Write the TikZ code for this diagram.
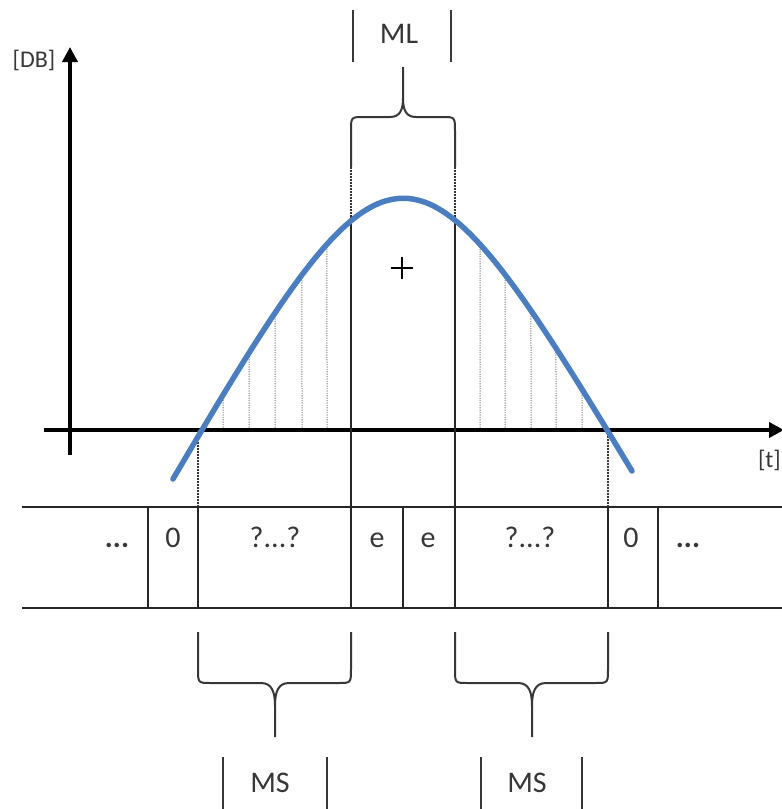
\documentclass[tikz,border=0pt]{standalone}
\usepackage{fontspec}
\setmainfont{Carlito}
\usetikzlibrary{arrows.meta,intersections}
\definecolor{curveblue}{RGB}{74,126,193}
\definecolor{txtgray}{RGB}{55,55,55}
\definecolor{linegray}{RGB}{55,55,55}
\begin{document}
\begin{tikzpicture}[x=1pt,y=-1pt,
  axisline/.style={line width=3.6pt, black, -{Triangle[width=15pt,length=15pt]}},
  bluecurve/.style={line width=5.5pt, draw=curveblue, line cap=round},
  cellline/.style={line width=1.8pt, draw=black!85},
  guide/.style={line width=1.6pt, draw=black!80, dash pattern=on 1.6pt off 1.4pt},
  hatch/.style={line width=1pt, draw=black!50, dash pattern=on 1.2pt off 1.2pt},
  bracket/.style={line width=2pt, draw=linegray, line join=round},
  labelbar/.style={line width=2pt, draw=linegray},
  bigtxt/.style={font=\fontsize{30}{36}\selectfont, text=txtgray, inner sep=0pt, anchor=base},
  unittxt/.style={font=\fontsize{24}{28}\selectfont, text=txtgray, inner sep=0pt, anchor=base}
]
\useasboundingbox (0,0) rectangle (782,809);

% curve (named path)
\coordinate (cstart) at (173,479);
\coordinate (cend) at (632,471);
\path[name path=curvepath] (cstart) .. controls (393,105) and (412,107) .. (cend);

% hatching under the curve
\foreach \hx [count=\i] in {223,249,275,302,327,480,505,531,556,582} {
  \path[name path=hline\i] (\hx,150) -- (\hx,440);
  \draw[hatch, name intersections={of=curvepath and hline\i}] (\hx,430) -- (intersection-1);
}

% axes
\coordinate (ybot) at (70,455);
\coordinate (ytop) at (70,47);
\coordinate (xleft) at (44,430);
\coordinate (xright) at (784,430);
\draw[axisline] (ybot) -- (ytop);
\draw[axisline] (xleft) -- (xright);

% table
\coordinate (tl) at (22,507);
\coordinate (tr) at (786,507);
\coordinate (bl) at (22,608);
\coordinate (br) at (786,608);
\draw[cellline] (tl) -- (tr);
\draw[cellline] (bl) -- (br);
\foreach \vx in {148,198,403,608,658} {
  \draw[cellline] (\vx,507) -- (\vx,608);
}
% long verticals through the peak
\coordinate (mlA) at (351,215);
\coordinate (mlB) at (455,215);
\coordinate (mlAb) at (351,608);
\coordinate (mlBb) at (455,608);
\draw[cellline] (mlA) -- (mlAb);
\draw[cellline] (mlB) -- (mlBb);

% dotted guides
\coordinate (zl) at (198,430);
\coordinate (zr) at (608,430);
\draw[guide] (zl) -- (198,507);
\draw[guide] (zr) -- (608,507);
\draw[guide] (351,167) -- (mlA);
\draw[guide] (455,167) -- (mlB);

% blue curve
\draw[bluecurve] (cstart) .. controls (393,105) and (412,107) .. (cend);

% plus sign
\draw[line width=2.8pt] (391,268) -- (413,268);
\draw[line width=2.8pt] (402,257) -- (402,279);

% top brace (ML)
\draw[bracket] (351,167) -- (351,131) .. controls (351,117) .. (364,117) -- (390,117)
  .. controls (400,117) and (403,110) .. (403,98) -- (403,67);
\draw[bracket] (455,167) -- (455,131) .. controls (455,117) .. (442,117) -- (416,117)
  .. controls (406,117) and (403,110) .. (403,98);

% bottom brace left (MS)
\draw[bracket] (198,632) -- (198,669) .. controls (198,683) .. (211,683) -- (261,683)
  .. controls (272,683) and (275,692) .. (275,706) -- (275,737);
\draw[bracket] (351,632) -- (351,669) .. controls (351,683) .. (338,683) -- (289,683)
  .. controls (278,683) and (275,692) .. (275,706);

% bottom brace right (MS)
\draw[bracket] (455,632) -- (455,669) .. controls (455,683) .. (468,683) -- (518,683)
  .. controls (529,683) and (532,692) .. (532,706) -- (532,737);
\draw[bracket] (608,632) -- (608,669) .. controls (608,683) .. (595,683) -- (546,683)
  .. controls (535,683) and (532,692) .. (532,706);

% label bars
\draw[labelbar] (353,10) -- (353,62);
\draw[labelbar] (451,10) -- (451,62);
\draw[labelbar] (223,757) -- (223,812);
\draw[labelbar] (327,757) -- (327,812);
\draw[labelbar] (481,757) -- (481,812);
\draw[labelbar] (582,757) -- (582,812);

% texts
\node[bigtxt] (ml) at (399,43) {ML};
\node[bigtxt] (msl) at (270,792) {MS};
\node[bigtxt] (msr) at (527,792) {MS};
\node[unittxt] (db) at (34,67) {[DB]};
\node[unittxt, anchor=base east] (tt) at (781,467) {[t]};

\node[bigtxt] (c1) at (117,547) {\textbf{...}};
\node[bigtxt] (c2) at (173,547) {0};
\node[bigtxt] (c3) at (275,547) {?...?};
\node[bigtxt] (c4) at (377,547) {e};
\node[bigtxt] (c5) at (428,547) {e};
\node[bigtxt] (c6) at (530,547) {?...?};
\node[bigtxt] (c7) at (631,547) {0};
\node[bigtxt] (c8) at (688,547) {\textbf{...}};
\end{tikzpicture}
\end{document}
